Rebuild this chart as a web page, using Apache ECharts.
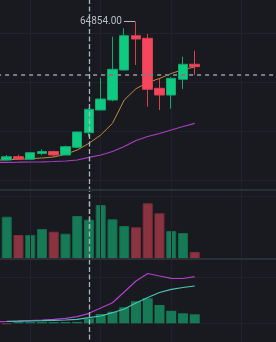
<!DOCTYPE html>
<html>
<head>
<meta charset="utf-8">
<script src="https://cdn.jsdelivr.net/npm/echarts@6/dist/echarts.min.js"></script>
<style>
html, body { margin: 0; padding: 0; background: #181a20; }
#chart { width: 276px; height: 342px; }
</style>
</head>
<body>
<div id="chart"></div>
<script>
// categories (time slots), the last ones are still empty
var categories = ['02-13', '02-14', '02-15', '02-16', '02-17', '02-18', '02-19', '02-20', '02-21', '02-22',
    '02-23', '02-24', '02-25', '02-26', '02-27', '02-28', '02-29', '03-01', '03-02', '03-03',
    '03-04', '03-05', '03-06', '03-07', '03-08'];

// open, close, lowest, highest
var candles = [
    [50850, 50980, 50800, 51050],
    [51000, 51330, 50930, 51500],
    [51330, 51100, 51000, 51530],
    [51070, 51730, 51040, 51770],
    [51650, 51850, 51470, 52070],
    [51850, 51500, 51330, 51930],
    [51500, 52330, 51470, 52430],
    [52270, 53800, 52170, 53830],
    [53730, 56070, 53330, 56170],
    [56000, 57100, 55970, 59230],
    [57000, 60070, 56870, 63330],
    [60000, 63430, 59930, 64170],
    [63430, 63100, 60500, 64854],
    [63170, 58070, 56330, 63600],
    [58170, 57500, 56000, 59100],
    [57500, 59170, 56130, 59270],
    [59070, 60570, 58100, 61330],
    [60570, 60330, 59500, 61930]
];
var ma7 = [50970, 51030, 51070, 51130, 51200, 51300, 51570, 52000, 52670, 53500, 54670, 57000, 58130, 58750, 59150, 59650, 60050, 60300];
var ma25 = [50760, 50770, 50780, 50800, 50820, 50850, 50900, 51000, 51270, 51500, 51850, 52350, 52950, 53350, 53650, 54000, 54350, 54670];
var volumes = [30000, 42300, 24000, 24000, 30000, 27300, 25300, 43000, 39300, 54000, 39700, 33000, 31700, 55700, 45700, 28000, 26000, 7000];
var dif = [64, 72, 92, 112, 132, 160, 200, 264, 400, 612, 824, 1252, 1692, 1992, 1892, 1800, 1792, 1864];
var dea = ['-', 80, 84, 92, 104, 120, 132, 160, 224, 292, 424, 572, 812, 1032, 1232, 1360, 1432, 1492];
var hist = ['-', -40, 50, 50, 50, 50, 50, 60, 200, 372, 464, 640, 880, 1000, 732, 500, 400, 360];

// crosshair position
var crossCategory = categories[8];
var crossPrice = 59500;

var UP = '#0ecb81', DOWN = '#f6465d';
var UP_DIM = '#177a56', DOWN_DIM = '#8a3341';
var GRID_LINE = '#1f2229', SEP = '#2b2f36';

var chart = echarts.init(document.getElementById('chart'), null, { renderer: 'canvas' });

var gl = -10.9, gw = 293.75;

function splitX() {
    return {
        show: true,
        alignWithLabel: true,
        interval: function (i) { return i % 6 === 3; },
        lineStyle: { color: GRID_LINE, width: 1 }
    };
}
function catAxis(grid, extra) {
    var a = {
        type: 'category', gridIndex: grid, data: categories, boundaryGap: true,
        axisLine: { show: false }, axisTick: { show: false }, axisLabel: { show: false },
        splitLine: { show: false }
    };
    for (var k in extra) a[k] = extra[k];
    return a;
}
function valAxis(grid, min, max, interval) {
    return {
        type: 'value', gridIndex: grid, min: min, max: max, interval: interval,
        axisLine: { show: false }, axisTick: { show: false }, axisLabel: { show: false },
        splitLine: { show: true, showMinLine: false, showMaxLine: false, lineStyle: { color: GRID_LINE, width: 1 } }
    };
}
function gridRect(top, height) {
    return { left: gl, width: gw, top: top, height: height, outerBoundsMode: 'none', containLabel: false };
}

var vLine = { xAxis: crossCategory, lineStyle: { color: '#aeb4bc', width: 1.3, type: [5, 2.5] } };
function crossMark(items) {
    return {
        silent: true, animation: false, symbol: ['none', 'none'],
        label: { show: false }, data: items
    };
}

var volData = volumes.map(function (v, i) {
    var up = candles[i][1] >= candles[i][0];
    return { value: v, itemStyle: { color: up ? UP_DIM : DOWN_DIM, borderColor: up ? '#146b4c' : '#7a2d39', borderWidth: 1 } };
});
var histData = hist.map(function (v) {
    if (v === '-') return v;
    return { value: v, itemStyle: { color: v >= 0 ? UP_DIM : DOWN_DIM } };
});

chart.setOption({
    backgroundColor: '#181a20',
    animation: false,
    grid: [
        gridRect(-16, 245),
        gridRect(190, 69),
        gridRect(259, 110.6),
        gridRect(329, 20)
    ],
    xAxis: [
        catAxis(0, { splitLine: splitX() }),
        catAxis(1, { splitLine: splitX(), z: 5, axisLine: { show: true, lineStyle: { color: SEP, width: 2 } } }),
        catAxis(1, { position: 'top', z: 5, axisLine: { show: true, lineStyle: { color: SEP, width: 2 } } }),
        catAxis(2, { splitLine: splitX() }),
        catAxis(3, { position: 'top', z: 5, axisLine: { show: true, lineStyle: { color: SEP, width: 2 } } })
    ],
    yAxis: [
        valAxis(0, 44100, 68600, 4900),
        valAxis(1, 0, 69000, 63000),
        valAxis(2, -1852, 2572, 1852),
        { type: 'value', gridIndex: 3, min: 0, max: 1, show: false }
    ],
    series: [
        {
            type: 'candlestick', xAxisIndex: 0, yAxisIndex: 0, z: 3,
            barWidth: '85%',
            data: candles,
            itemStyle: { color: UP, color0: DOWN, borderColor: '#10a86d', borderColor0: '#d8404f', borderWidth: 1 },
            markPoint: {
                silent: true, animation: false,
                symbol: 'rect', symbolSize: [11, 1], symbolOffset: [-6.5, 0],
                itemStyle: { color: '#b7bdc6' },
                label: {
                    show: true, position: 'left', distance: 2, color: '#b7bdc6',
                    fontSize: 10, fontFamily: 'Roboto',
                    formatter: function (p) { return p.value.toFixed(2); }
                },
                data: [{ type: 'max', valueDim: 'highest' }]
            },
            markLine: crossMark([
                { yAxis: crossPrice, lineStyle: { color: '#777b83', width: 2, type: [4, 4] } },
                vLine
            ])
        },
        {
            type: 'line', xAxisIndex: 0, yAxisIndex: 0, z: 2, data: ma7,
            symbol: 'none', lineStyle: { color: '#c08a3e', width: 1 }
        },
        {
            type: 'line', xAxisIndex: 0, yAxisIndex: 0, z: 2, data: ma25,
            symbol: 'none', lineStyle: { color: '#a93dc3', width: 1.2 }
        },
        {
            type: 'bar', xAxisIndex: 1, yAxisIndex: 1, barWidth: '85%', data: volData,
            markLine: crossMark([vLine])
        },
        {
            type: 'bar', xAxisIndex: 3, yAxisIndex: 2, barWidth: '85%', data: histData,
            markLine: crossMark([vLine])
        },
        {
            type: 'line', xAxisIndex: 3, yAxisIndex: 2, z: 3, data: dif,
            symbol: 'none', lineStyle: { color: '#b23fcb', width: 1.2 }
        },
        {
            type: 'line', xAxisIndex: 3, yAxisIndex: 2, z: 3, data: dea,
            symbol: 'none', lineStyle: { color: '#4cc4b3', width: 1.2 }
        }
    ]
});
</script>
</body>
</html>
